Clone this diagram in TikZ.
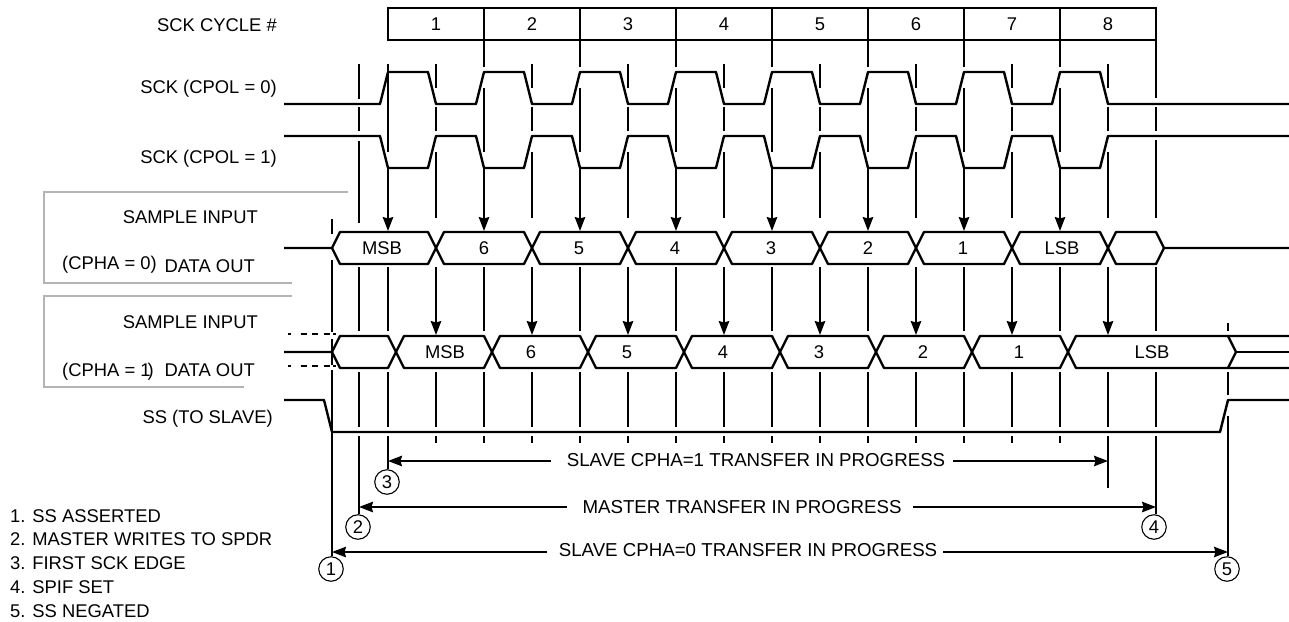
\documentclass[tikz,border=0pt]{standalone}
\usepackage{fontspec}
\setmainfont{Liberation Sans}
\usepackage{xcolor}
\usetikzlibrary{arrows.meta,positioning}

\definecolor{bracketgray}{HTML}{B4B4B4}

\begin{document}
\begin{tikzpicture}[
    x=1pt,
    y=-1pt,
    txt/.style={
        font=\fontsize{18.4}{22}\selectfont,
        inner sep=0pt,
        text height=13pt,
        text depth=0pt
    },
    xfer/.style={
        txt,
        font=\fontsize{18.7}{22}\selectfont
    },
    wave/.style={
        line width=2.4pt,
        line join=round
    },
    guide/.style={
        line width=1.7pt
    },
    flow/.style={
        -{Stealth[length=14pt,width=10.5pt,inset=1.5pt]},
        line width=1.7pt
    },
    cell/.style={
        minimum width=96pt,
        minimum height=32pt
    },
    frame/.style={
        line width=2.5pt,
        line cap=rect
    },
    event/.style={
        draw,
        circle,
        line width=1.1pt,
        minimum size=24.5pt,
        inner sep=0pt
    },
    bracket/.style={
        draw=bracketgray,
        line width=1.4pt
    }
]

\useasboundingbox (0,0) rectangle (1289,621);

%---------------------------------------------------------------------
% Row labels and grey brackets
%---------------------------------------------------------------------

\node[txt, anchor=east] (lcycle) at (277,25) {SCK CYCLE \#};
\node[txt, anchor=east] (lcpol0) at (277,87) {SCK (CPOL = 0)};
\node[txt, anchor=east] (lcpol1) at (277,157) {SCK (CPOL = 1)};
\node[txt, anchor=east] (lsample0) at (258,217) {SAMPLE INPUT};
\node[txt, anchor=east] (ldata0) at (255,266) {DATA OUT};
\node[txt, anchor=east] (lcpha0) at (157,263) {(CPHA = 0)};
\node[txt, anchor=east] (lsample1) at (258,322) {SAMPLE INPUT};
\node[txt, anchor=east] (ldata1) at (255,370) {DATA OUT};
\node[txt, anchor=east] (lcpha1) at (154,370) {(CPHA = 1\kern-3pt)};
\node[txt, anchor=east] (lss) at (273,417) {SS (TO SLAVE)};

\draw[bracket] (348,192) -- (44,192) -- (44,283) -- (292,283);
\draw[bracket] (292,296) -- (44,296) -- (44,387) -- (244,387);

%---------------------------------------------------------------------
% Cycle numbers
%---------------------------------------------------------------------

\foreach \i in {1,...,8} {
    \node[txt, cell] (cyc\i) at (340+96*\i,24) {\i};
}
\draw[frame] (cyc1.north west) rectangle (cyc8.south east);
\foreach \i in {1,...,7} {
    \draw[frame] (cyc\i.north east) -- (cyc\i.south east);
}

%---------------------------------------------------------------------
% Traces
%---------------------------------------------------------------------

\draw[wave] (284,104) foreach \x in {388,484,...,1060} {
    -- (\x-8,104) -- (\x,72) -- (\x+40,72) -- (\x+48,104)
} -- (1289,104);

\draw[wave] (284,136) foreach \x in {388,484,...,1060} {
    -- (\x-8,136) -- (\x,168) -- (\x+40,168) -- (\x+48,136)
} -- (1289,136);

% CPHA = 0
\draw[wave] (284,248) -- (332,248) -- (340,232)
    foreach \x in {436,628,820,1012} {
        -- (\x-8,232) -- (\x+8,264) -- (\x+88,264) -- (\x+104,232)
    } -- (1156,232) -- (1164,248) -- (1289,248);
\draw[wave] (332,248) -- (340,264)
    foreach \x in {436,628,820,1012} {
        -- (\x-8,264) -- (\x+8,232) -- (\x+88,232) -- (\x+104,264)
    } -- (1156,264) -- (1164,248);

% CPHA = 1
\draw[wave] (284,352) -- (332,352) -- (340,336)
    foreach \x in {396,588,780,972} {
        -- (\x-8,336) -- (\x+8,368) -- (\x+88,368) -- (\x+104,336)
    } -- (1289,336);
\draw[wave] (332,352) -- (340,368)
    foreach \x in {396,588,780,972} {
        -- (\x-8,368) -- (\x+8,336) -- (\x+88,336) -- (\x+104,368)
    } -- (1289,368);
\draw[wave] (1228,336) -- (1236,352) -- (1228,368);
\draw[wave] (1236,352) -- (1289,352);
\draw[wave, dash pattern=on 2.5pt off 10pt on 6pt off 5.5pt on 6pt off 5.5pt on 6pt off 3pt on 3pt off 99pt]
    (288,334) -- (336,334);
\draw[wave, dash pattern=on 2.5pt off 10pt on 6pt off 5.5pt on 6pt off 5.5pt on 6pt off 3pt on 3pt off 99pt]
    (288,366) -- (336,366);

% SS
\draw[wave] (284,400) -- (324,400) -- (332,432) -- (1220,432) -- (1228,400) -- (1289,400);

%---------------------------------------------------------------------
% Data values
%---------------------------------------------------------------------

\foreach \x/\t [count=\i] in {382/MSB,484/6,579/5,675/4,771/3,868/2,963/1,1062/LSB} {
    \node[txt] (din\i) at (\x,248) {\t};
}
\foreach \x/\t [count=\i] in {445/MSB,531/6,627/5,723/4,819/3,923/2,1019/1,1152/LSB} {
    \node[txt] (dout\i) at (\x,352) {\t};
}

%---------------------------------------------------------------------
% Guides
%---------------------------------------------------------------------

\node[event, txt, minimum size=24.5pt] (ev1) at (331,569) {1};
\node[event, txt, minimum size=24.5pt] (ev2) at (358,527) {2};
\node[event, txt, minimum size=24.5pt] (ev3) at (387,482) {3};
\node[event, txt, minimum size=24.5pt] (ev4) at (1154,527) {4};
\node[event, txt, minimum size=24.5pt] (ev5) at (1227,569) {5};

% cycle boundaries
\foreach \x in {484,580,...,1060} {
    \foreach \a/\b in {40/67,88/152,267/331,372/427,436/443} {
        \draw[guide] (\x,\a) -- (\x,\b);
    }
    \draw[flow] (\x,168) -- (\x,231);
}

% half cycles
\foreach \x in {436,532,...,1108} {
    \foreach \a/\b in {64/88,107/131,152/218,372/427} {
        \draw[guide] (\x,\a) -- (\x,\b);
    }
    \draw[flow] (\x,267) -- (\x,335);
}
\foreach \x in {436,532,...,1012} {
    \draw[guide] (\x,436) -- (\x,443);
}

% first edge
\foreach \a/\b in {64/152,267/331,372/427} {
    \draw[guide] (388,\a) -- (388,\b);
}
\draw[flow] (388,168) -- (388,231);
\coordinate (first) at (388,436);
\draw[guide] (first) -- (first |- ev3.north);

% SPIF set
\foreach \a/\b in {40/98,107/131,140/218,267/331,372/427} {
    \draw[guide] (1156,\a) -- (1156,\b);
}
\coordinate (spif) at (1156,436);
\draw[guide] (spif) -- (spif |- ev4.north);

% master write
\foreach \a/\b in {64/99,107/131,141/223,267/331,372/427} {
    \draw[guide] (359,\a) -- (359,\b);
}
\coordinate (write) at (359,436);
\draw[guide] (write) -- (write |- ev2.north);

% SS asserted
\foreach \a/\b in {219/234,260/332,339/365,370/430} {
    \draw[guide] (332,\a) -- (332,\b);
}
\coordinate (assert) at (332,432);
\draw[guide] (assert) -- (assert |- ev1.north);

% SS negated
\foreach \a/\b in {323/331,372/395} {
    \draw[guide] (1228,\a) -- (1228,\b);
}
\coordinate (negate) at (1228,416);
\draw[guide] (negate) -- (negate |- ev5.north);

% last half cycle
\coordinate (lastbit) at (1108,436);
\coordinate (lastbitend) at (1108,488);
\draw[guide] (lastbit) -- (lastbitend);

%---------------------------------------------------------------------
% Transfers
%---------------------------------------------------------------------

\node[xfer] (slave1) at (756,460) {SLAVE CPHA=1 TRANSFER IN PROGRESS};
\node[xfer] (master) at (742,507) {MASTER TRANSFER IN PROGRESS};
\node[xfer] (slave0) at (748,549.5) {SLAVE CPHA=0 TRANSFER IN PROGRESS};

\coordinate (slave1l) at (551,461);
\coordinate (slave1r) at (953,461);
\coordinate (masterl) at (567,507);
\coordinate (masterr) at (913,507);
\coordinate (slave0l) at (547,552);
\coordinate (slave0r) at (943,552);

\draw[flow] (slave1l) -- (first |- slave1l);
\draw[flow] (slave1r) -- (lastbit |- slave1r);
\draw[flow] (masterl) -- (write |- masterl);
\draw[flow] (masterr) -- (spif |- masterr);
\draw[flow] (slave0l) -- (assert |- slave0l);
\draw[flow] (slave0r) -- (negate |- slave0r);

%---------------------------------------------------------------------
% Legend
%---------------------------------------------------------------------

\foreach \y/\t [count=\i] in {516/SS ASSERTED,539/MASTER WRITES TO SPDR,563/FIRST SCK EDGE,587/SPIF SET,611/SS NEGATED} {
    \node[txt, anchor=west] (item\i) at (10,\y) {\i. \t};
}

\end{tikzpicture}
\end{document}
